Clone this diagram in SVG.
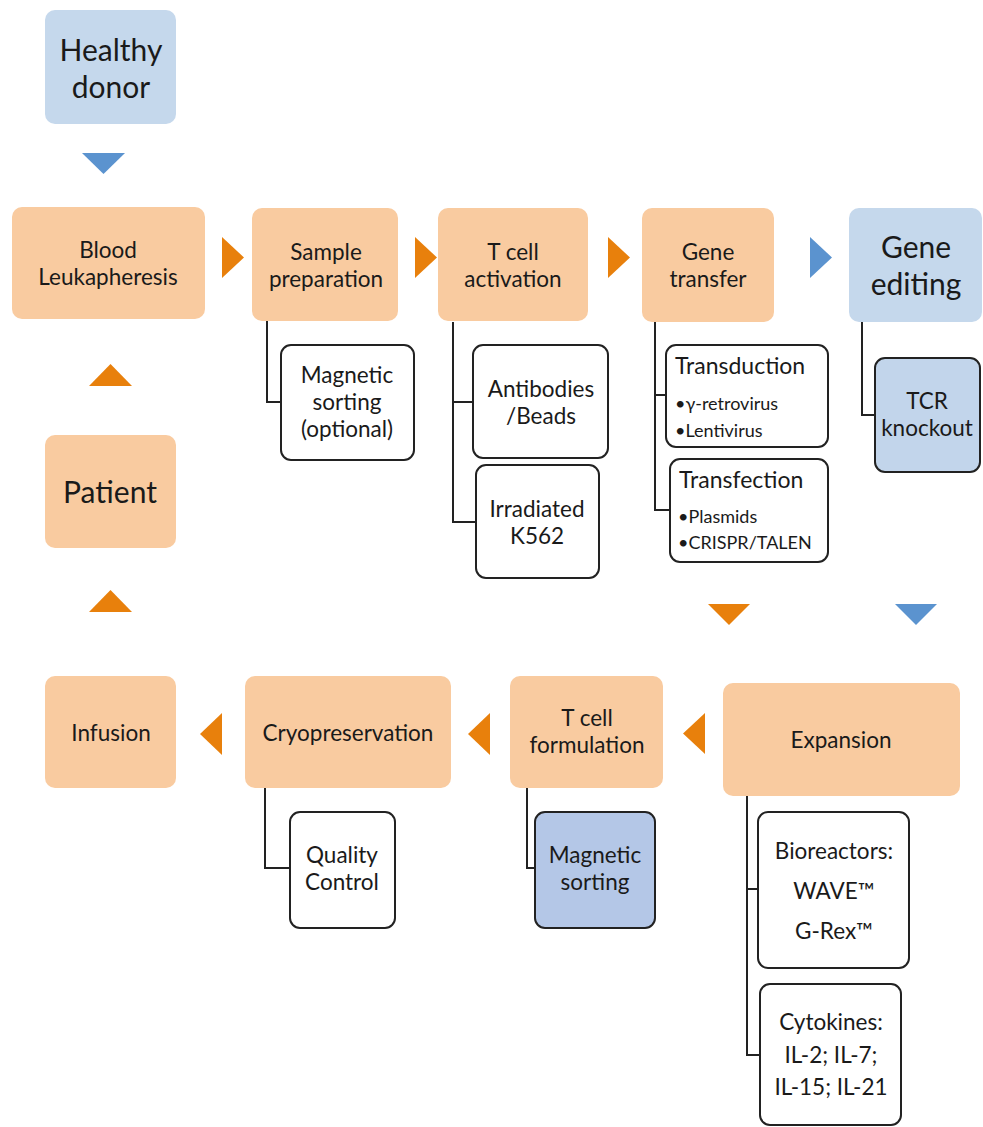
<svg xmlns="http://www.w3.org/2000/svg" width="983" height="1127" viewBox="0 0 983 1127">
<style>
text{font-family:Lato,"Open Sans","Liberation Sans",sans-serif;fill:#1a1a1a;text-anchor:middle}
.big{font-size:30px}
.mid{font-size:22.5px}
.sm{font-size:18px;text-anchor:start}
.hd{font-size:23px;text-anchor:start}
.or{fill:#f9cba0}
.bl{fill:#c5d8ec}
.wb{fill:#fff;stroke:#222;stroke-width:2}
.bb{fill:#c2d5eb;stroke:#222;stroke-width:2}
.bb2{fill:#b4c7e7;stroke:#222;stroke-width:2}
.ta{fill:#e8800c}
.tb{fill:#5b93cf}
.ln{fill:none;stroke:#222;stroke-width:2}
</style>
<rect width="983" height="1127" fill="#fff"/>
<g id="connectors">
<polygon class="tb" points="82,153 125,153 103.5,174"/>
<polygon class="ta" points="222,237 244,257.5 222,278"/>
<polygon class="ta" points="415,237 437,257.5 415,278"/>
<polygon class="ta" points="608,237 630,257.5 608,278"/>
<polygon class="tb" points="810,237 832,257.5 810,278"/>
<polygon class="ta" points="89,386 132,386 110.5,364"/>
<polygon class="ta" points="89,612 132,612 110.5,590"/>
<polygon class="ta" points="708,604 750,604 729,625"/>
<polygon class="tb" points="895,604 937,604 916,625"/>
<polygon class="ta" points="705,713 683,733.5 705,754"/>
<polygon class="ta" points="490,713 468,734 490,755"/>
<polygon class="ta" points="222,713 200,734 222,755"/>
<path class="ln" d="M267,321V402H281"/>
<path class="ln" d="M453,322V522H476M453,402H474"/>
<path class="ln" d="M655,322V510H670M655,395H666"/>
<path class="ln" d="M862,322V415H875"/>
<path class="ln" d="M265,788V868H290"/>
<path class="ln" d="M527,788V868H535"/>
<path class="ln" d="M747,796V1055H760M747,889H758"/>
</g>
<g id="healthy-donor"><rect class="bl" x="45" y="10" width="131" height="114" rx="10"/><text class="big" x="111" y="61">Healthy</text><text class="big" x="111" y="98">donor</text></g>
<g id="blood"><rect class="or" x="12" y="207" width="193" height="112" rx="10"/><text class="mid" x="108" y="258">Blood</text><text class="mid" x="108" y="285">Leukapheresis</text></g>
<g id="sample"><rect class="or" x="252" y="208" width="146" height="113" rx="10"/><text class="mid" x="326" y="260">Sample</text><text class="mid" x="326" y="287">preparation</text></g>
<g id="activation"><rect class="or" x="438" y="208" width="150" height="113" rx="10"/><text class="mid" x="513" y="260">T cell</text><text class="mid" x="513" y="287">activation</text></g>
<g id="gene-transfer"><rect class="or" x="642" y="208" width="132" height="114" rx="10"/><text class="mid" x="708" y="260">Gene</text><text class="mid" x="708" y="287">transfer</text></g>
<g id="gene-editing"><rect class="bl" x="849" y="208" width="133" height="114" rx="10"/><text class="big" x="916" y="258">Gene</text><text class="big" x="916" y="295">editing</text></g>
<g id="magnetic-opt"><rect class="wb" x="281" y="345" width="133" height="115" rx="10"/><text class="mid" x="347" y="383">Magnetic</text><text class="mid" x="347" y="410">sorting</text><text class="mid" x="347" y="437">(optional)</text></g>
<g id="antibodies"><rect class="wb" x="473" y="345" width="135" height="113" rx="10"/><text class="mid" x="541" y="397">Antibodies</text><text class="mid" x="541" y="424">/Beads</text></g>
<g id="irradiated"><rect class="wb" x="476" y="465" width="123" height="113" rx="10"/><text class="mid" x="537" y="517">Irradiated</text><text class="mid" x="537" y="544">K562</text></g>
<g id="transduction"><rect class="wb" x="666" y="345" width="162" height="102" rx="10"/><text class="hd" x="675" y="374">Transduction</text><text class="sm" x="675" y="410">•γ-retrovirus</text><text class="sm" x="675" y="437">•Lentivirus</text></g>
<g id="transfection"><rect class="wb" x="670" y="459" width="158" height="103" rx="10"/><text class="hd" x="679" y="488">Transfection</text><text class="sm" x="678" y="523">•Plasmids</text><text class="sm" x="678" y="549">•CRISPR/TALEN</text></g>
<g id="tcr-knockout"><rect class="bb" x="875" y="358" width="105" height="114" rx="10"/><text class="mid" x="927" y="409">TCR</text><text class="mid" x="927" y="436">knockout</text></g>
<g id="patient"><rect class="or" x="45" y="435" width="131" height="113" rx="10"/><text class="big" x="110" y="503">Patient</text></g>
<g id="infusion"><rect class="or" x="45" y="676" width="131" height="112" rx="10"/><text class="mid" x="111" y="741">Infusion</text></g>
<g id="cryo"><rect class="or" x="245" y="676" width="206" height="112" rx="10"/><text class="mid" x="348" y="741">Cryopreservation</text></g>
<g id="formulation"><rect class="or" x="510" y="676" width="153" height="112" rx="10"/><text class="mid" x="587" y="726">T cell</text><text class="mid" x="587" y="753">formulation</text></g>
<g id="expansion"><rect class="or" x="723" y="683" width="237" height="113" rx="10"/><text class="mid" x="841" y="748">Expansion</text></g>
<g id="quality"><rect class="wb" x="290" y="812" width="105" height="116" rx="10"/><text class="mid" x="342" y="863">Quality</text><text class="mid" x="342" y="890">Control</text></g>
<g id="magnetic"><rect class="bb2" x="535" y="812" width="120" height="116" rx="10"/><text class="mid" x="595" y="863">Magnetic</text><text class="mid" x="595" y="890">sorting</text></g>
<g id="bioreactors"><rect class="wb" x="758" y="812" width="151" height="156" rx="10"/><text class="mid" x="834" y="859">Bioreactors:</text><text class="mid" x="834" y="899">WAVE™</text><text class="mid" x="834" y="939">G-Rex™</text></g>
<g id="cytokines"><rect class="wb" x="760" y="984" width="141" height="141" rx="10"/><text class="mid" x="831" y="1030">Cytokines:</text><text class="mid" x="831" y="1063">IL-2; IL-7;</text><text class="mid" x="831" y="1095">IL-15; IL-21</text></g>
</svg>
